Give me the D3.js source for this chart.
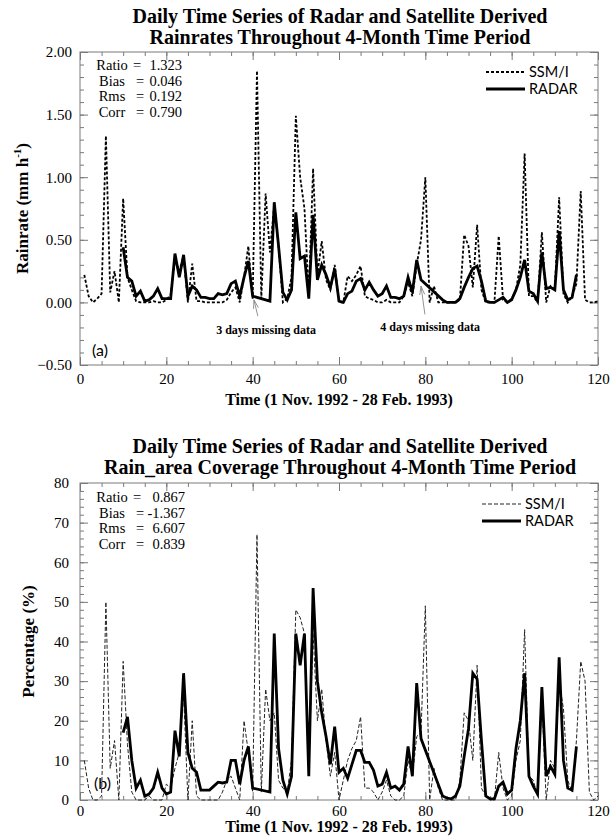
<!DOCTYPE html>
<html>
<head>
<meta charset="utf-8">
<script src="https://cdn.jsdelivr.net/npm/d3@7"></script>
<style>
  body { margin: 0; background: #fff; }
  svg { display: block; }
</style>
</head>
<body>
<svg id="chart" width="610" height="836"></svg>
<script>
// days of the 4-month period (1 Nov. 1992 = day 1)
const ssmiDays = d3.range(1, 121);
const radarDays = d3.range(10, 116);

// panel (a): rainrate, mm/h
const ssmiRate = [
  0.22, 0.05, 0.00, 0.03, 0.07, 1.33, 0.08, 0.25, 0.00, 0.83,
  0.20, 0.10, 0.01, 0.00, 0.00, 0.00, 0.01, 0.00, 0.00, 0.02,
  0.06, 0.35, 0.25, 0.37, 0.00, 0.31, 0.01, 0.01, 0.00, 0.00,
  0.00, 0.00, 0.00, 0.02, 0.08, 0.12, 0.00, 0.20, 0.45, 0.03,
  1.85, 0.03, 0.87, 0.40, 0.78, 0.45, 0.00, 0.03, 0.20, 1.49,
  1.00, 0.75, 0.05, 1.07, 0.22, 0.49, 0.18, 0.10, 0.30, 0.00,
  0.00, 0.21, 0.17, 0.22, 0.29, 0.05, 0.03, 0.02, 0.00, 0.00,
  0.02, 0.00, 0.00, 0.00, 0.05, 0.16, 0.05, 0.30, 0.50, 1.00,
  0.00, 0.13, 0.00, 0.00, 0.00, 0.00, 0.00, 0.02, 0.54, 0.45,
  0.12, 0.62, 0.10, 0.00, 0.00, 0.00, 0.53, 0.02, 0.00, 0.03,
  0.10, 0.30, 1.19, 0.05, 0.05, 0.00, 0.56, 0.00, 0.13, 0.10,
  0.84, 0.07, 0.00, 0.05, 0.15, 0.89, 0.02, 0.00, 0.00, 0.01
];
// null = missing radar day
const radarRate = [
  0.44, 0.20, 0.17, 0.05, 0.09, 0.01, 0.02, 0.05, 0.11, 0.03,
  0.03, 0.03, 0.39, 0.20, 0.38, 0.05, 0.13, 0.10, 0.04, 0.04,
  0.03, 0.03, 0.07, 0.06, 0.07, 0.15, 0.17, 0.05, 0.20, 0.33,
  0.05, null, null, null, 0.01, 0.80, 0.45, 0.08, 0.02, 0.10,
  0.72, 0.35, 0.37, 0.03, 0.70, 0.18, 0.30, 0.22, 0.12, 0.27,
  0.01, 0.00, 0.07, 0.09, 0.17, 0.19, 0.10, 0.16, 0.10, 0.05,
  0.07, 0.13, 0.04, 0.04, 0.03, 0.05, 0.20, 0.08, 0.34, 0.18,
  null, null, null, null, 0.02, 0.00, 0.00, 0.00, 0.03, 0.12,
  0.20, 0.27, 0.29, 0.17, 0.01, 0.00, 0.00, 0.02, 0.04, 0.00,
  0.02, 0.10, 0.20, 0.34, 0.09, 0.07, 0.01, 0.40, 0.11, 0.12,
  0.10, 0.57, 0.10, 0.02, 0.04, 0.22
];

// panel (b): rain area coverage, %
const ssmiArea = [
  10, 3, 0, 0, 1, 50, 8, 15, 0, 35,
  14, 2, 0, 0, 0, 1, 0, 0, 0, 4,
  3, 8, 12, 27, 0, 20, 1, 0, 0, 0,
  0, 0, 2, 5, 6, 3, 0, 20, 12, 2,
  67, 2, 28, 20, 22, 5, 3, 2, 10, 48,
  46, 42, 8, 42, 20, 28, 15, 6, 12, 0,
  5, 10, 13, 15, 21, 3, 3, 2, 0, 2,
  5, 1, 0, 0, 1, 10, 6, 16, 17, 49,
  0, 8, 3, 0, 0, 0, 0, 5, 22, 20,
  10, 34, 3, 1, 0, 0, 12, 3, 0, 1,
  10, 15, 43, 6, 5, 1, 25, 0, 10, 8,
  30, 23, 5, 2, 15, 35, 30, 2, 0, 1
];
const radarArea = [
  17, 21, 10, 3, 5, 1, 1.5, 3, 7, 3,
  1.5, 2, 17.5, 11, 32, 12, 8, 7, 2.5, 2.5,
  2.5, 3.5, 4.5, 4.3, 4.5, 10, 10, 4, 10, 13.5,
  3, null, null, null, 2, 42, 13, 5, 1.5, 6,
  42, 34, 42, 6, 53.5, 30, 22, 16, 9, 18.5,
  7, 8, 5.5, 9, 12.5, 12.5, 9.5, 9.5, 7.5, 3.5,
  4, 7, 3, 3.5, 2.5, 4, 13.5, 6, 29.5, 15.5,
  null, null, null, null, 1, 0.5, 0.3, 1, 3.5, 11,
  18, 32, 30.5, 15, 1, 0.3, 0.3, 3.5, 4.5, 1.5,
  2.5, 13, 20, 32, 6, 3.5, 1.5, 28.5, 6, 8.5,
  6.5, 36, 10, 3, 2.5, 13.5
];

const statNames = ['Ratio', 'Bias', 'Rms', 'Corr'];
const rateStats = ['1.323', '0.046', '0.192', '0.790'];
const areaStats = ['0.867', '-1.367', '6.607', '0.839'];

const xTicks = [0, 20, 40, 60, 80, 100, 120];
const rateTicks = [-0.5, 0, 0.5, 1, 1.5, 2];
const areaTicks = [0, 10, 20, 30, 40, 50, 60, 70, 80];

const serif = '"Liberation Serif", "Times New Roman", serif';
const sans = 'Lato, "Liberation Sans", sans-serif';
const frameColor = '#7a7a7a';

const svg = d3.select('#chart');

function drawPanel(p) {
  const x = d3.scaleLinear().domain([0, 120]).range([80, 598]);
  const y = d3.scaleLinear().domain(p.yDomain).range([p.bottom, p.top]);
  const g = svg.append('g');

  // titles
  g.append('text')
    .attr('x', 340).attr('y', p.top - p.titleGap - 21)
    .attr('text-anchor', 'middle')
    .style('font', `bold 20px ${serif}`)
    .text('Daily Time Series of Radar and Satellite Derived');
  g.append('text')
    .attr('x', 340).attr('y', p.top - p.titleGap)
    .attr('text-anchor', 'middle')
    .style('font', `bold 20px ${serif}`)
    .text(p.title2);

  // minor ticks on all four sides
  const minorX = d3.range(0, 121, 5);
  const minorY = d3.range(p.yDomain[0], p.yDomain[1] + p.minorStep / 2, p.minorStep);
  const addAxis = (axis, tx, ty) => {
    const a = g.append('g')
      .attr('transform', `translate(${tx},${ty})`)
      .call(axis);
    a.select('.domain').remove();
    a.selectAll('line').attr('stroke', frameColor);
    a.selectAll('text')
      .attr('fill', '#000')
      .style('font', `15px ${serif}`);
    return a;
  };
  addAxis(d3.axisBottom(x).tickValues(minorX).tickSize(-4).tickFormat(''), 0, p.bottom);
  addAxis(d3.axisTop(x).tickValues(minorX).tickSize(-4).tickFormat(''), 0, p.top);
  addAxis(d3.axisLeft(y).tickValues(minorY).tickSize(-4).tickFormat(''), 80, 0);
  addAxis(d3.axisRight(y).tickValues(minorY).tickSize(-4).tickFormat(''), 598, 0);

  // major ticks with labels
  addAxis(d3.axisBottom(x).tickValues(xTicks).tickSize(-8).tickPadding(p.xPad).tickFormat(d3.format('d')), 0, p.bottom);
  addAxis(d3.axisTop(x).tickValues(xTicks).tickSize(-8).tickFormat(''), 0, p.top);
  addAxis(d3.axisLeft(y).tickValues(p.yTicks).tickSize(-8).tickPadding(p.yPad).tickFormat(p.yFormat), 80, 0);
  addAxis(d3.axisRight(y).tickValues(p.yTicks).tickSize(-8).tickFormat(''), 598, 0);

  g.append('rect')
    .attr('x', 80).attr('y', p.top)
    .attr('width', 518).attr('height', p.bottom - p.top)
    .attr('fill', 'none')
    .attr('stroke', frameColor)
    .attr('stroke-width', 1);

  // series
  const line = d3.line().x(d => x(d[0])).y(d => y(d[1]));
  const ssmi = ssmiDays.map((d, i) => [d, p.ssmi[i]]);
  const radar = radarDays.map((d, i) => [d, p.radar[i]]).filter(d => d[1] != null);

  g.append('path')
    .attr('d', line(ssmi))
    .attr('fill', 'none')
    .attr('stroke', p.ssmiColor)
    .attr('stroke-width', p.ssmiWidth)
    .attr('stroke-dasharray', p.ssmiDash);
  g.append('path')
    .attr('d', line(radar))
    .attr('fill', 'none')
    .attr('stroke', '#000')
    .attr('stroke-width', 2.8)
    .attr('stroke-linejoin', 'miter');

  // statistics box
  p.stats.forEach((v, i) => {
    const yy = p.statTop + i * p.statStep;
    g.append('text').attr('x', 112).attr('y', yy).attr('text-anchor', 'middle')
      .style('font', `14.5px ${serif}`).text(statNames[i]);
    g.append('text').attr('x', i === 0 ? 137 : 140).attr('y', yy).attr('text-anchor', 'middle')
      .style('font', `14.5px ${serif}`).text('=');
    g.append('text').attr('x', p.statRight).attr('y', yy).attr('text-anchor', 'end')
      .style('font', `14.5px ${serif}`).text(v);
  });

  // legend
  const lg = g.append('g').attr('transform', `translate(${p.legendX},${p.legendY})`);
  lg.append('line').attr('x1', 0).attr('x2', 39).attr('y1', 0).attr('y2', 0)
    .attr('stroke', p.ssmiColor).attr('stroke-width', p.ssmiWidth).attr('stroke-dasharray', p.ssmiDash);
  lg.append('text').attr('x', 43).attr('y', 5)
    .style('font', `14.5px ${sans}`).text('SSM/I');
  lg.append('line').attr('x1', 0).attr('x2', 39).attr('y1', 17).attr('y2', 17)
    .attr('stroke', '#000').attr('stroke-width', 2.8);
  lg.append('text').attr('x', 43).attr('y', 22)
    .style('font', `14.5px ${sans}`).text('RADAR');

  // panel letter
  g.append('text').attr('x', p.letterX).attr('y', p.letterY)
    .style('font', `16px ${sans}`).text(p.letter);

  // axis titles
  g.append('text')
    .attr('x', 339).attr('y', p.xTitleY)
    .attr('text-anchor', 'middle')
    .style('font', `bold 16px ${serif}`)
    .text('Time (1 Nov. 1992 - 28 Feb. 1993)');

  const yt = g.append('text')
    .attr('transform', `translate(${p.yTitleX},${(p.top + p.bottom) / 2}) rotate(-90)`)
    .attr('text-anchor', 'middle')
    .style('font', `bold 17px ${serif}`);
  p.yTitle(yt);

  // missing-data notes
  (p.notes || []).forEach(n => {
    g.append('text')
      .attr('x', x(n.textDay)).attr('y', y(n.textValue))
      .attr('text-anchor', 'middle')
      .style('font', `bold 12px ${serif}`)
      .text(n.text);
    const x1 = x(n.tailDay), y1 = y(n.tailValue);
    const x2 = x(n.tipDay), y2 = y(n.tipValue);
    const ang = Math.atan2(y2 - y1, x2 - x1);
    const hl = 9, ha = 0.28;
    const path = `M${x1},${y1}L${x2},${y2}` +
      `M${x2 - hl * Math.cos(ang - ha)},${y2 - hl * Math.sin(ang - ha)}L${x2},${y2}` +
      `L${x2 - hl * Math.cos(ang + ha)},${y2 - hl * Math.sin(ang + ha)}`;
    g.append('path').attr('d', path)
      .attr('fill', 'none').attr('stroke', '#888').attr('stroke-width', 0.9);
  });
}

drawPanel({
  top: 52, bottom: 365, titleGap: 8,
  yDomain: [-0.5, 2], yTicks: rateTicks, minorStep: 0.1,
  yFormat: d3.format('.2f'), yPad: 8, xPad: 8, xTitleY: 405,
  title2: 'Rainrates Throughout 4-Month Time Period',
  ssmi: ssmiRate, radar: radarRate,
  ssmiWidth: 1.8, ssmiDash: '3,2', ssmiColor: '#000',
  stats: rateStats, statTop: 70, statStep: 15.7, statRight: 182,
  legendX: 486, legendY: 72,
  letter: '(a)', letterX: 92, letterY: 356,
  yTitleX: 28,
  yTitle: t => {
    t.append('tspan').text('Rainrate (mm h');
    t.append('tspan').attr('dy', -7).style('font-size', '11px').text('-1');
    t.append('tspan').attr('dy', 7).text(')');
  },
  notes: [
    { text: '3 days missing data', textDay: 43.1, textValue: -0.255,
      tailDay: 41.2, tailValue: -0.11, tipDay: 40.3, tipValue: 0.02 },
    { text: '4 days missing data', textDay: 81.1, textValue: -0.23,
      tailDay: 79.9, tailValue: -0.096, tipDay: 79.0, tipValue: 0.13 }
  ]
});

drawPanel({
  top: 483, bottom: 800, titleGap: 9,
  yDomain: [0, 80], yTicks: areaTicks, minorStep: 2,
  yFormat: d3.format('d'), yPad: 11, xPad: 5, xTitleY: 832,
  title2: 'Rain_area Coverage Throughout 4-Month Time Period',
  ssmi: ssmiArea, radar: radarArea,
  ssmiWidth: 1, ssmiDash: '4,2', ssmiColor: '#222',
  stats: areaStats, statTop: 502, statStep: 15.7, statRight: 185,
  legendX: 482, legendY: 504,
  letter: '(b)', letterX: 94, letterY: 789,
  yTitleX: 34,
  yTitle: t => t.text('Percentage (%)')
});
</script>
</body>
</html>
